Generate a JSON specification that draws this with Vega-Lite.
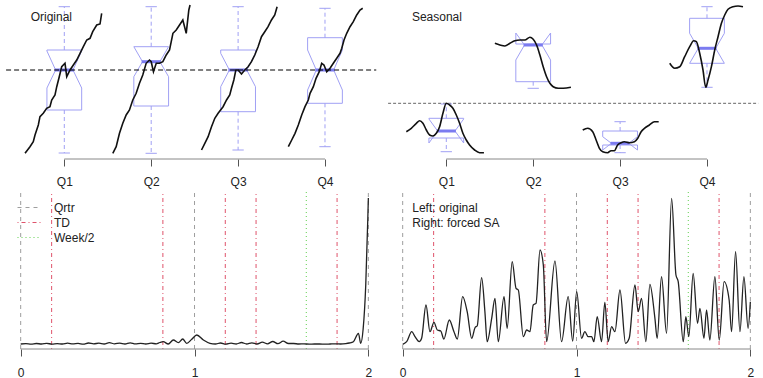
{
"$schema":"https://vega.github.io/schema/vega-lite/v6.json",
"padding":0,
"background":"white",
"config":{"view":{"stroke":null},"font":"Liberation Sans"},
"columns":2,
"spacing":{"row":32,"column":2},
"bounds":"flush",
"resolve":{"scale":{"x":"independent","y":"independent","color":"independent","strokeDash":"independent"},"legend":{"color":"independent","strokeDash":"independent"}},
"datasets":{
"series":[
{"p":"TL","q":1,"x":0.548,"y":5.7},{"p":"TL","q":1,"x":0.605,"y":12.3},{"p":"TL","q":1,"x":0.643,"y":17.3},{"p":"TL","q":1,"x":0.663,"y":24},{"p":"TL","q":1,"x":0.701,"y":34},{"p":"TL","q":1,"x":0.72,"y":42.3},{"p":"TL","q":1,"x":0.758,"y":45.7},{"p":"TL","q":1,"x":0.797,"y":50.7},{"p":"TL","q":1,"x":0.835,"y":52.3},{"p":"TL","q":1,"x":0.855,"y":59},{"p":"TL","q":1,"x":0.893,"y":64},{"p":"TL","q":1,"x":0.913,"y":72.3},{"p":"TL","q":1,"x":0.942,"y":82.3},{"p":"TL","q":1,"x":0.97,"y":92.3},{"p":"TL","q":1,"x":1.008,"y":95.7},{"p":"TL","q":1,"x":1.028,"y":82.3},{"p":"TL","q":1,"x":1.066,"y":89},{"p":"TL","q":1,"x":1.104,"y":94},{"p":"TL","q":1,"x":1.143,"y":99},{"p":"TL","q":1,"x":1.181,"y":105.7},{"p":"TL","q":1,"x":1.219,"y":112.3},{"p":"TL","q":1,"x":1.258,"y":119},{"p":"TL","q":1,"x":1.296,"y":120.7},{"p":"TL","q":1,"x":1.327,"y":127.3},{"p":"TL","q":1,"x":1.373,"y":134},{"p":"TL","q":1,"x":1.411,"y":135},{"p":"TL","q":1,"x":1.43,"y":145.7},
{"p":"TL","q":2,"x":1.558,"y":5.7},{"p":"TL","q":2,"x":1.597,"y":12.3},{"p":"TL","q":2,"x":1.635,"y":25.7},{"p":"TL","q":2,"x":1.673,"y":35.7},{"p":"TL","q":2,"x":1.712,"y":44},{"p":"TL","q":2,"x":1.75,"y":49},{"p":"TL","q":2,"x":1.788,"y":59},{"p":"TL","q":2,"x":1.827,"y":65.7},{"p":"TL","q":2,"x":1.865,"y":75.7},{"p":"TL","q":2,"x":1.903,"y":84},{"p":"TL","q":2,"x":1.942,"y":95.7},{"p":"TL","q":2,"x":1.98,"y":99},{"p":"TL","q":2,"x":2.0,"y":97.3},{"p":"TL","q":2,"x":2.026,"y":87.3},{"p":"TL","q":2,"x":2.058,"y":95.7},{"p":"TL","q":2,"x":2.096,"y":95.7},{"p":"TL","q":2,"x":2.134,"y":97.3},{"p":"TL","q":2,"x":2.173,"y":104},{"p":"TL","q":2,"x":2.211,"y":109},{"p":"TL","q":2,"x":2.25,"y":125.7},{"p":"TL","q":2,"x":2.288,"y":129},{"p":"TL","q":2,"x":2.326,"y":134},{"p":"TL","q":2,"x":2.364,"y":139},{"p":"TL","q":2,"x":2.403,"y":125.7},{"p":"TL","q":2,"x":2.433,"y":149},{"p":"TL","q":2,"x":2.447,"y":154},
{"p":"TL","q":3,"x":2.579,"y":9},{"p":"TL","q":3,"x":2.617,"y":15.7},{"p":"TL","q":3,"x":2.655,"y":22.3},{"p":"TL","q":3,"x":2.694,"y":32.3},{"p":"TL","q":3,"x":2.732,"y":40.7},{"p":"TL","q":3,"x":2.77,"y":45.7},{"p":"TL","q":3,"x":2.827,"y":52.3},{"p":"TL","q":3,"x":2.867,"y":59},{"p":"TL","q":3,"x":2.904,"y":64},{"p":"TL","q":3,"x":2.924,"y":70.7},{"p":"TL","q":3,"x":2.951,"y":79},{"p":"TL","q":3,"x":2.974,"y":89},{"p":"TL","q":3,"x":3.0,"y":89},{"p":"TL","q":3,"x":3.039,"y":85},{"p":"TL","q":3,"x":3.077,"y":89},{"p":"TL","q":3,"x":3.115,"y":92.3},{"p":"TL","q":3,"x":3.154,"y":97.3},{"p":"TL","q":3,"x":3.192,"y":104},{"p":"TL","q":3,"x":3.23,"y":112.3},{"p":"TL","q":3,"x":3.269,"y":122.3},{"p":"TL","q":3,"x":3.307,"y":127.3},{"p":"TL","q":3,"x":3.345,"y":132.3},{"p":"TL","q":3,"x":3.384,"y":139},{"p":"TL","q":3,"x":3.422,"y":144},{"p":"TL","q":3,"x":3.449,"y":152.3},
{"p":"TL","q":4,"x":3.578,"y":12.3},{"p":"TL","q":4,"x":3.617,"y":19},{"p":"TL","q":4,"x":3.655,"y":25.7},{"p":"TL","q":4,"x":3.693,"y":34},{"p":"TL","q":4,"x":3.732,"y":44},{"p":"TL","q":4,"x":3.77,"y":52.3},{"p":"TL","q":4,"x":3.808,"y":59},{"p":"TL","q":4,"x":3.828,"y":65.7},{"p":"TL","q":4,"x":3.866,"y":72.3},{"p":"TL","q":4,"x":3.897,"y":80.7},{"p":"TL","q":4,"x":3.934,"y":87.3},{"p":"TL","q":4,"x":3.962,"y":95.7},{"p":"TL","q":4,"x":3.988,"y":94},{"p":"TL","q":4,"x":4.02,"y":87.3},{"p":"TL","q":4,"x":4.058,"y":90.7},{"p":"TL","q":4,"x":4.096,"y":95.7},{"p":"TL","q":4,"x":4.135,"y":100.7},{"p":"TL","q":4,"x":4.173,"y":105.7},{"p":"TL","q":4,"x":4.193,"y":110.7},{"p":"TL","q":4,"x":4.219,"y":119},{"p":"TL","q":4,"x":4.25,"y":125.7},{"p":"TL","q":4,"x":4.288,"y":132.3},{"p":"TL","q":4,"x":4.326,"y":137.3},{"p":"TL","q":4,"x":4.365,"y":144},{"p":"TL","q":4,"x":4.403,"y":149},{"p":"TL","q":4,"x":4.434,"y":150.7},
{"p":"TR","q":1,"x":0.54,"y":27.3},{"p":"TR","q":1,"x":0.597,"y":30.7},{"p":"TR","q":1,"x":0.655,"y":35.7},{"p":"TR","q":1,"x":0.693,"y":38.3},{"p":"TR","q":1,"x":0.731,"y":35.7},{"p":"TR","q":1,"x":0.77,"y":29},{"p":"TR","q":1,"x":0.808,"y":24},{"p":"TR","q":1,"x":0.846,"y":23},{"p":"TR","q":1,"x":0.885,"y":25.7},{"p":"TR","q":1,"x":0.923,"y":32.3},{"p":"TR","q":1,"x":0.961,"y":45.7},{"p":"TR","q":1,"x":1.0,"y":55.7},{"p":"TR","q":1,"x":1.038,"y":54},{"p":"TR","q":1,"x":1.076,"y":50.7},{"p":"TR","q":1,"x":1.115,"y":44},{"p":"TR","q":1,"x":1.153,"y":35.7},{"p":"TR","q":1,"x":1.191,"y":25.7},{"p":"TR","q":1,"x":1.23,"y":19},{"p":"TR","q":1,"x":1.268,"y":14},{"p":"TR","q":1,"x":1.326,"y":9},{"p":"TR","q":1,"x":1.383,"y":6.3},{"p":"TR","q":1,"x":1.433,"y":6.3},
{"p":"TR","q":2,"x":1.559,"y":115.7},{"p":"TR","q":2,"x":1.617,"y":114},{"p":"TR","q":2,"x":1.674,"y":113},{"p":"TR","q":2,"x":1.732,"y":115.7},{"p":"TR","q":2,"x":1.789,"y":118.3},{"p":"TR","q":2,"x":1.847,"y":119},{"p":"TR","q":2,"x":1.904,"y":119},{"p":"TR","q":2,"x":1.962,"y":121.7},{"p":"TR","q":2,"x":2.0,"y":119.7},{"p":"TR","q":2,"x":2.039,"y":114},{"p":"TR","q":2,"x":2.077,"y":104},{"p":"TR","q":2,"x":2.115,"y":92.3},{"p":"TR","q":2,"x":2.154,"y":82.3},{"p":"TR","q":2,"x":2.192,"y":75.7},{"p":"TR","q":2,"x":2.23,"y":72.3},{"p":"TR","q":2,"x":2.288,"y":70.7},{"p":"TR","q":2,"x":2.345,"y":70.7},{"p":"TR","q":2,"x":2.434,"y":71.7},
{"p":"TR","q":3,"x":2.57,"y":29},{"p":"TR","q":3,"x":2.627,"y":30.7},{"p":"TR","q":3,"x":2.685,"y":27.3},{"p":"TR","q":3,"x":2.724,"y":19},{"p":"TR","q":3,"x":2.762,"y":10.7},{"p":"TR","q":3,"x":2.8,"y":7.3},{"p":"TR","q":3,"x":2.857,"y":6.3},{"p":"TR","q":3,"x":2.896,"y":8.3},{"p":"TR","q":3,"x":2.934,"y":8.3},{"p":"TR","q":3,"x":2.972,"y":14},{"p":"TR","q":3,"x":3.012,"y":16.3},{"p":"TR","q":3,"x":3.049,"y":17.3},{"p":"TR","q":3,"x":3.107,"y":16.3},{"p":"TR","q":3,"x":3.165,"y":17.3},{"p":"TR","q":3,"x":3.203,"y":20.7},{"p":"TR","q":3,"x":3.242,"y":27.3},{"p":"TR","q":3,"x":3.28,"y":30.7},{"p":"TR","q":3,"x":3.337,"y":34},{"p":"TR","q":3,"x":3.395,"y":37.3},{"p":"TR","q":3,"x":3.444,"y":37.3},
{"p":"TR","q":4,"x":3.571,"y":95.7},{"p":"TR","q":4,"x":3.628,"y":90.7},{"p":"TR","q":4,"x":3.686,"y":92.3},{"p":"TR","q":4,"x":3.743,"y":102.3},{"p":"TR","q":4,"x":3.801,"y":112.3},{"p":"TR","q":4,"x":3.847,"y":118.3},{"p":"TR","q":4,"x":3.878,"y":117.3},{"p":"TR","q":4,"x":3.916,"y":105.7},{"p":"TR","q":4,"x":3.954,"y":89},{"p":"TR","q":4,"x":3.985,"y":71.7},{"p":"TR","q":4,"x":4.012,"y":79},{"p":"TR","q":4,"x":4.051,"y":92.3},{"p":"TR","q":4,"x":4.089,"y":109},{"p":"TR","q":4,"x":4.127,"y":122.3},{"p":"TR","q":4,"x":4.166,"y":135.7},{"p":"TR","q":4,"x":4.204,"y":144},{"p":"TR","q":4,"x":4.242,"y":149.7},{"p":"TR","q":4,"x":4.299,"y":152.3},{"p":"TR","q":4,"x":4.357,"y":153},{"p":"TR","q":4,"x":4.414,"y":152.3}
],
"box":[
{"p":"TL","b":"TL1","i":1,"x":0.8,"y":49},{"p":"TL","b":"TL1","i":2,"x":1.2,"y":49},{"p":"TL","b":"TL1","i":3,"x":1.2,"y":71},{"p":"TL","b":"TL1","i":4,"x":1.1,"y":89},{"p":"TL","b":"TL1","i":5,"x":1.2,"y":108},{"p":"TL","b":"TL1","i":6,"x":1.2,"y":109},{"p":"TL","b":"TL1","i":7,"x":0.8,"y":109},{"p":"TL","b":"TL1","i":8,"x":0.8,"y":108},{"p":"TL","b":"TL1","i":9,"x":0.9,"y":89},{"p":"TL","b":"TL1","i":10,"x":0.8,"y":71},{"p":"TL","b":"TL1","i":11,"x":0.8,"y":49},
{"p":"TL","b":"TL2","i":1,"x":1.8,"y":53},{"p":"TL","b":"TL2","i":2,"x":2.2,"y":53},{"p":"TL","b":"TL2","i":3,"x":2.2,"y":82.3},{"p":"TL","b":"TL2","i":4,"x":2.1,"y":97.3},{"p":"TL","b":"TL2","i":5,"x":2.2,"y":112.3},{"p":"TL","b":"TL2","i":6,"x":2.2,"y":112.3},{"p":"TL","b":"TL2","i":7,"x":1.8,"y":112.3},{"p":"TL","b":"TL2","i":8,"x":1.8,"y":112.3},{"p":"TL","b":"TL2","i":9,"x":1.9,"y":97.3},{"p":"TL","b":"TL2","i":10,"x":1.8,"y":82.3},{"p":"TL","b":"TL2","i":11,"x":1.8,"y":53},
{"p":"TL","b":"TL3","i":1,"x":2.8,"y":47.3},{"p":"TL","b":"TL3","i":2,"x":3.2,"y":47.3},{"p":"TL","b":"TL3","i":3,"x":3.2,"y":72.3},{"p":"TL","b":"TL3","i":4,"x":3.1,"y":89},{"p":"TL","b":"TL3","i":5,"x":3.2,"y":105.7},{"p":"TL","b":"TL3","i":6,"x":3.2,"y":109},{"p":"TL","b":"TL3","i":7,"x":2.8,"y":109},{"p":"TL","b":"TL3","i":8,"x":2.8,"y":105.7},{"p":"TL","b":"TL3","i":9,"x":2.9,"y":89},{"p":"TL","b":"TL3","i":10,"x":2.8,"y":72.3},{"p":"TL","b":"TL3","i":11,"x":2.8,"y":47.3},
{"p":"TL","b":"TL4","i":1,"x":3.8,"y":55.7},{"p":"TL","b":"TL4","i":2,"x":4.2,"y":55.7},{"p":"TL","b":"TL4","i":3,"x":4.2,"y":69},{"p":"TL","b":"TL4","i":4,"x":4.1,"y":89},{"p":"TL","b":"TL4","i":5,"x":4.2,"y":109},{"p":"TL","b":"TL4","i":6,"x":4.2,"y":121.3},{"p":"TL","b":"TL4","i":7,"x":3.8,"y":121.3},{"p":"TL","b":"TL4","i":8,"x":3.8,"y":109},{"p":"TL","b":"TL4","i":9,"x":3.9,"y":89},{"p":"TL","b":"TL4","i":10,"x":3.8,"y":69},{"p":"TL","b":"TL4","i":11,"x":3.8,"y":55.7},
{"p":"TR","b":"TR1","i":1,"x":0.8,"y":21},{"p":"TR","b":"TR1","i":2,"x":1.2,"y":21},{"p":"TR","b":"TR1","i":3,"x":1.2,"y":16},{"p":"TR","b":"TR1","i":4,"x":1.1,"y":28},{"p":"TR","b":"TR1","i":5,"x":1.2,"y":40},{"p":"TR","b":"TR1","i":6,"x":1.2,"y":40.7},{"p":"TR","b":"TR1","i":7,"x":0.8,"y":40.7},{"p":"TR","b":"TR1","i":8,"x":0.8,"y":40},{"p":"TR","b":"TR1","i":9,"x":0.9,"y":28},{"p":"TR","b":"TR1","i":10,"x":0.8,"y":16},{"p":"TR","b":"TR1","i":11,"x":0.8,"y":21},
{"p":"TR","b":"TR2","i":1,"x":1.8,"y":77.3},{"p":"TR","b":"TR2","i":2,"x":2.2,"y":77.3},{"p":"TR","b":"TR2","i":3,"x":2.2,"y":99},{"p":"TR","b":"TR2","i":4,"x":2.1,"y":114},{"p":"TR","b":"TR2","i":5,"x":2.2,"y":126},{"p":"TR","b":"TR2","i":6,"x":2.2,"y":115},{"p":"TR","b":"TR2","i":7,"x":1.8,"y":115},{"p":"TR","b":"TR2","i":8,"x":1.8,"y":126},{"p":"TR","b":"TR2","i":9,"x":1.9,"y":114},{"p":"TR","b":"TR2","i":10,"x":1.8,"y":99},{"p":"TR","b":"TR2","i":11,"x":1.8,"y":77.3},
{"p":"TR","b":"TR3","i":1,"x":2.8,"y":14},{"p":"TR","b":"TR3","i":2,"x":3.2,"y":14},{"p":"TR","b":"TR3","i":3,"x":3.2,"y":9},{"p":"TR","b":"TR3","i":4,"x":3.1,"y":15.7},{"p":"TR","b":"TR3","i":5,"x":3.2,"y":22.3},{"p":"TR","b":"TR3","i":6,"x":3.2,"y":28},{"p":"TR","b":"TR3","i":7,"x":2.8,"y":28},{"p":"TR","b":"TR3","i":8,"x":2.8,"y":22.3},{"p":"TR","b":"TR3","i":9,"x":2.9,"y":15.7},{"p":"TR","b":"TR3","i":10,"x":2.8,"y":9},{"p":"TR","b":"TR3","i":11,"x":2.8,"y":14},
{"p":"TR","b":"TR4","i":1,"x":3.8,"y":95.7},{"p":"TR","b":"TR4","i":2,"x":4.2,"y":95.7},{"p":"TR","b":"TR4","i":3,"x":4.2,"y":95.7},{"p":"TR","b":"TR4","i":4,"x":4.1,"y":110.7},{"p":"TR","b":"TR4","i":5,"x":4.2,"y":125.7},{"p":"TR","b":"TR4","i":6,"x":4.2,"y":140.7},{"p":"TR","b":"TR4","i":7,"x":3.8,"y":140.7},{"p":"TR","b":"TR4","i":8,"x":3.8,"y":125.7},{"p":"TR","b":"TR4","i":9,"x":3.9,"y":110.7},{"p":"TR","b":"TR4","i":10,"x":3.8,"y":95.7},{"p":"TR","b":"TR4","i":11,"x":3.8,"y":95.7}
],
"whisk":[
{"p":"TL","x":1,"y":109,"y2":152.3},{"p":"TL","x":1,"y":49,"y2":6},
{"p":"TL","x":2,"y":112.3,"y2":152.3},{"p":"TL","x":2,"y":53,"y2":5.7},
{"p":"TL","x":3,"y":109,"y2":152.3},{"p":"TL","x":3,"y":47.3,"y2":9},
{"p":"TL","x":4,"y":121.3,"y2":150.7},{"p":"TL","x":4,"y":55.7,"y2":12.3},
{"p":"TR","x":1,"y":40.7,"y2":55},{"p":"TR","x":1,"y":21,"y2":7.3},
{"p":"TR","x":2,"y":77.3,"y2":70.7},
{"p":"TR","x":3,"y":28,"y2":37.3},{"p":"TR","x":3,"y":14,"y2":6.3},
{"p":"TR","x":4,"y":140.7,"y2":152.3},{"p":"TR","x":4,"y":95.7,"y2":71.7}
],
"caps":[
{"p":"TL","x":0.935,"x2":1.065,"y":152.3},{"p":"TL","x":0.935,"x2":1.065,"y":6},
{"p":"TL","x":1.935,"x2":2.065,"y":152.3},{"p":"TL","x":1.935,"x2":2.065,"y":5.7},
{"p":"TL","x":2.935,"x2":3.065,"y":152.3},{"p":"TL","x":2.935,"x2":3.065,"y":9},
{"p":"TL","x":3.935,"x2":4.065,"y":150.7},{"p":"TL","x":3.935,"x2":4.065,"y":12.3},
{"p":"TR","x":0.935,"x2":1.065,"y":55},{"p":"TR","x":0.935,"x2":1.065,"y":7.3},
{"p":"TR","x":1.935,"x2":2.065,"y":70.7},
{"p":"TR","x":2.935,"x2":3.065,"y":37.3},{"p":"TR","x":2.935,"x2":3.065,"y":6.3},
{"p":"TR","x":3.935,"x2":4.065,"y":152.3},{"p":"TR","x":3.935,"x2":4.065,"y":71.7}
],
"meds":[
{"p":"TL","x":0.89,"x2":1.11,"y":89},{"p":"TL","x":1.89,"x2":2.11,"y":97.3},{"p":"TL","x":2.89,"x2":3.11,"y":89},{"p":"TL","x":3.89,"x2":4.11,"y":89},
{"p":"TR","x":0.89,"x2":1.11,"y":28},{"p":"TR","x":1.89,"x2":2.11,"y":114},{"p":"TR","x":2.89,"x2":3.11,"y":15.7},{"p":"TR","x":3.89,"x2":4.11,"y":110.7}
],
"hline":[
{"p":"TL","x":0.33,"x2":4.59,"y":89},
{"p":"TR","x":0.33,"x2":4.59,"y":55.7}
],
"axl":[
{"p":"TL","x":1,"x2":4,"y":0},{"p":"TR","x":1,"x2":4,"y":0},
{"p":"BL","x":0,"x2":2,"y":0},{"p":"BR","x":0,"x2":2,"y":0}
],
"txt":[
{"p":"TL","x":0.613,"y":138.3,"text":"Original"},
{"p":"TR","x":0.604,"y":138.3,"text":"Seasonal"},
{"p":"BR","x":0.055,"y":137.3,"text":"Left: original"},
{"p":"BR","x":0.055,"y":122.3,"text":"Right: forced SA"}
],
"vl":[
{"x":0,"y":0,"y2":158,"type":"Qrtr"},{"x":1,"y":0,"y2":158,"type":"Qrtr"},{"x":2,"y":0,"y2":158,"type":"Qrtr"},
{"x":0.178,"y":0,"y2":158,"type":"TD"},{"x":0.818,"y":0,"y2":158,"type":"TD"},{"x":1.177,"y":0,"y2":158,"type":"TD"},{"x":1.354,"y":0,"y2":158,"type":"TD"},{"x":1.82,"y":0,"y2":158,"type":"TD"},
{"x":1.643,"y":0,"y2":158,"type":"Week/2"}
],
"spec":[
{"p":"BL","x":0,"y":5},{"p":"BL","x":0.03,"y":5.3},{"p":"BL","x":0.06,"y":4.8},{"p":"BL","x":0.09,"y":5.5},{"p":"BL","x":0.12,"y":5},{"p":"BL","x":0.15,"y":5.6},{"p":"BL","x":0.18,"y":4.9},{"p":"BL","x":0.21,"y":5.4},{"p":"BL","x":0.24,"y":5},{"p":"BL","x":0.27,"y":5.8},{"p":"BL","x":0.3,"y":5.1},{"p":"BL","x":0.33,"y":5.6},{"p":"BL","x":0.36,"y":4.8},{"p":"BL","x":0.39,"y":6},{"p":"BL","x":0.42,"y":5.2},{"p":"BL","x":0.45,"y":5.8},{"p":"BL","x":0.48,"y":5},{"p":"BL","x":0.51,"y":6.3},{"p":"BL","x":0.54,"y":5.2},{"p":"BL","x":0.57,"y":5.9},{"p":"BL","x":0.6,"y":5},{"p":"BL","x":0.63,"y":6.2},{"p":"BL","x":0.66,"y":5.1},{"p":"BL","x":0.69,"y":5.7},{"p":"BL","x":0.72,"y":5},{"p":"BL","x":0.75,"y":5.8},{"p":"BL","x":0.78,"y":5.2},{"p":"BL","x":0.8,"y":6.5},{"p":"BL","x":0.82,"y":7.3},{"p":"BL","x":0.849,"y":5},{"p":"BL","x":0.878,"y":9},{"p":"BL","x":0.907,"y":6.3},{"p":"BL","x":0.932,"y":10},{"p":"BL","x":0.955,"y":5.7},{"p":"BL","x":0.984,"y":9.7},{"p":"BL","x":1.013,"y":14},{"p":"BL","x":1.051,"y":9},{"p":"BL","x":1.089,"y":5.7},{"p":"BL","x":1.12,"y":5},{"p":"BL","x":1.15,"y":6},{"p":"BL","x":1.18,"y":4.8},{"p":"BL","x":1.21,"y":5.8},{"p":"BL","x":1.24,"y":5},{"p":"BL","x":1.27,"y":6.5},{"p":"BL","x":1.3,"y":5},{"p":"BL","x":1.33,"y":6.2},{"p":"BL","x":1.36,"y":5},{"p":"BL","x":1.39,"y":6.8},{"p":"BL","x":1.42,"y":5.2},{"p":"BL","x":1.45,"y":7.5},{"p":"BL","x":1.48,"y":5.3},{"p":"BL","x":1.51,"y":7.8},{"p":"BL","x":1.54,"y":5.5},{"p":"BL","x":1.57,"y":5.5},{"p":"BL","x":1.6,"y":5},{"p":"BL","x":1.63,"y":5.1},{"p":"BL","x":1.66,"y":4.9},{"p":"BL","x":1.69,"y":5},{"p":"BL","x":1.72,"y":5},{"p":"BL","x":1.75,"y":4.9},{"p":"BL","x":1.78,"y":5},{"p":"BL","x":1.81,"y":5.1},{"p":"BL","x":1.84,"y":5},{"p":"BL","x":1.87,"y":5.4},{"p":"BL","x":1.89,"y":6},{"p":"BL","x":1.914,"y":7.3},{"p":"BL","x":1.943,"y":15.7},{"p":"BL","x":1.956,"y":5.7},{"p":"BL","x":1.97,"y":20},{"p":"BL","x":1.985,"y":64},{"p":"BL","x":1.997,"y":131},{"p":"BL","x":2.0,"y":151},
{"p":"BR","x":0,"y":4.7},{"p":"BR","x":0.023,"y":7.3},{"p":"BR","x":0.052,"y":17.3},{"p":"BR","x":0.071,"y":12.3},{"p":"BR","x":0.095,"y":7.3},{"p":"BR","x":0.109,"y":10.7},{"p":"BR","x":0.134,"y":44},{"p":"BR","x":0.157,"y":17.3},{"p":"BR","x":0.18,"y":26.7},{"p":"BR","x":0.199,"y":19},{"p":"BR","x":0.219,"y":18},{"p":"BR","x":0.237,"y":10},{"p":"BR","x":0.268,"y":29},{"p":"BR","x":0.295,"y":17.3},{"p":"BR","x":0.314,"y":10},{"p":"BR","x":0.345,"y":52.3},{"p":"BR","x":0.371,"y":37.3},{"p":"BR","x":0.397,"y":10.7},{"p":"BR","x":0.416,"y":21.3},{"p":"BR","x":0.429,"y":23.3},{"p":"BR","x":0.454,"y":71.3},{"p":"BR","x":0.473,"y":37.3},{"p":"BR","x":0.486,"y":7.3},{"p":"BR","x":0.512,"y":30.7},{"p":"BR","x":0.531,"y":50.7},{"p":"BR","x":0.55,"y":7.3},{"p":"BR","x":0.583,"y":52.3},{"p":"BR","x":0.601,"y":20.7},{"p":"BR","x":0.63,"y":87.3},{"p":"BR","x":0.652,"y":60.7},{"p":"BR","x":0.665,"y":59},{"p":"BR","x":0.694,"y":12.3},{"p":"BR","x":0.713,"y":19},{"p":"BR","x":0.732,"y":17.3},{"p":"BR","x":0.751,"y":44},{"p":"BR","x":0.767,"y":45.7},{"p":"BR","x":0.79,"y":99},{"p":"BR","x":0.809,"y":84},{"p":"BR","x":0.828,"y":7.3},{"p":"BR","x":0.876,"y":88},{"p":"BR","x":0.914,"y":7.3},{"p":"BR","x":0.952,"y":52.3},{"p":"BR","x":0.978,"y":8},{"p":"BR","x":1.001,"y":57.3},{"p":"BR","x":1.029,"y":10.7},{"p":"BR","x":1.048,"y":17.3},{"p":"BR","x":1.067,"y":12.3},{"p":"BR","x":1.087,"y":12.3},{"p":"BR","x":1.1,"y":7.3},{"p":"BR","x":1.119,"y":32.3},{"p":"BR","x":1.144,"y":7.3},{"p":"BR","x":1.163,"y":46.7},{"p":"BR","x":1.182,"y":7.3},{"p":"BR","x":1.202,"y":22.3},{"p":"BR","x":1.221,"y":17.3},{"p":"BR","x":1.25,"y":59},{"p":"BR","x":1.282,"y":5.7},{"p":"BR","x":1.303,"y":10.7},{"p":"BR","x":1.336,"y":64},{"p":"BR","x":1.355,"y":37.3},{"p":"BR","x":1.374,"y":50.7},{"p":"BR","x":1.399,"y":7.3},{"p":"BR","x":1.422,"y":64.7},{"p":"BR","x":1.451,"y":30.7},{"p":"BR","x":1.464,"y":10.7},{"p":"BR","x":1.489,"y":72.3},{"p":"BR","x":1.518,"y":15.7},{"p":"BR","x":1.547,"y":150.7},{"p":"BR","x":1.572,"y":74},{"p":"BR","x":1.585,"y":67.3},{"p":"BR","x":1.614,"y":7.3},{"p":"BR","x":1.629,"y":32.3},{"p":"BR","x":1.646,"y":12.3},{"p":"BR","x":1.671,"y":75.7},{"p":"BR","x":1.696,"y":25.7},{"p":"BR","x":1.71,"y":40.7},{"p":"BR","x":1.733,"y":10.7},{"p":"BR","x":1.748,"y":39},{"p":"BR","x":1.767,"y":9},{"p":"BR","x":1.796,"y":72.3},{"p":"BR","x":1.821,"y":9},{"p":"BR","x":1.849,"y":67.3},{"p":"BR","x":1.878,"y":49},{"p":"BR","x":1.892,"y":17.3},{"p":"BR","x":1.915,"y":97.3},{"p":"BR","x":1.94,"y":17.3},{"p":"BR","x":1.963,"y":72.3},{"p":"BR","x":1.987,"y":20.7},{"p":"BR","x":2.0,"y":47.3}
]
},
"concat":[
{
"width":380,"height":159,
"encoding":{
"x":{"field":"x","type":"quantitative","scale":{"domain":[0.26,4.633],"nice":false,"zero":false},"axis":{"values":[1,2,3,4],"labelExpr":"'Q' + datum.value","domain":false,"grid":false,"tickSize":7,"tickColor":"#555555","labelFontSize":12,"labelColor":"#222222","labelPadding":10,"title":null,"labelFont":"Liberation Sans"}},
"y":{"field":"y","type":"quantitative","scale":{"domain":[0,159],"nice":false,"zero":false},"axis":null}
},
"layer":[
{"data":{"name":"box"},"transform":[{"filter":"datum.p === 'TL'"}],"mark":{"type":"line","stroke":"#a0a0f4","strokeWidth":1},"encoding":{"detail":{"field":"b"},"order":{"field":"i","type":"quantitative"}}},
{"data":{"name":"whisk"},"transform":[{"filter":"datum.p === 'TL'"}],"mark":{"type":"rule","stroke":"#a0a0f4","strokeWidth":1,"strokeDash":[4,3]},"encoding":{"y2":{"field":"y2"}}},
{"data":{"name":"caps"},"transform":[{"filter":"datum.p === 'TL'"}],"mark":{"type":"rule","stroke":"#a0a0f4","strokeWidth":1},"encoding":{"x2":{"field":"x2"}}},
{"data":{"name":"meds"},"transform":[{"filter":"datum.p === 'TL'"}],"mark":{"type":"rule","stroke":"#7b7bf0","strokeWidth":3},"encoding":{"x2":{"field":"x2"}}},
{"data":{"name":"hline"},"transform":[{"filter":"datum.p === 'TL'"}],"mark":{"type":"rule","stroke":"#000000","strokeWidth":1,"strokeDash":[5,3]},"encoding":{"x2":{"field":"x2"}}},
{"data":{"name":"series"},"transform":[{"filter":"datum.p === 'TL'"}],"mark":{"type":"line","stroke":"#111111","strokeWidth":1.6},"encoding":{"detail":{"field":"q"}}},
{"data":{"name":"axl"},"transform":[{"filter":"datum.p === 'TL'"}],"mark":{"type":"rule","stroke":"#888888","strokeWidth":1},"encoding":{"x2":{"field":"x2"}}},
{"data":{"name":"txt"},"transform":[{"filter":"datum.p === 'TL'"}],"mark":{"type":"text","align":"left","baseline":"alphabetic","fontSize":12,"font":"Liberation Sans","color":"#222222"},"encoding":{"text":{"field":"text"}}}
]
},
{
"width":380,"height":159,
"encoding":{
"x":{"field":"x","type":"quantitative","scale":{"domain":[0.26,4.633],"nice":false,"zero":false},"axis":{"values":[1,2,3,4],"labelExpr":"'Q' + datum.value","domain":false,"grid":false,"tickSize":7,"tickColor":"#555555","labelFontSize":12,"labelColor":"#222222","labelPadding":10,"title":null,"labelFont":"Liberation Sans"}},
"y":{"field":"y","type":"quantitative","scale":{"domain":[0,159],"nice":false,"zero":false},"axis":null}
},
"layer":[
{"data":{"name":"hline"},"transform":[{"filter":"datum.p === 'TR'"}],"mark":{"type":"rule","stroke":"#666666","strokeWidth":1,"strokeDash":[3,2]},"encoding":{"x2":{"field":"x2"}}},
{"data":{"name":"box"},"transform":[{"filter":"datum.p === 'TR'"}],"mark":{"type":"line","stroke":"#a0a0f4","strokeWidth":1},"encoding":{"detail":{"field":"b"},"order":{"field":"i","type":"quantitative"}}},
{"data":{"name":"whisk"},"transform":[{"filter":"datum.p === 'TR'"}],"mark":{"type":"rule","stroke":"#a0a0f4","strokeWidth":1,"strokeDash":[4,3]},"encoding":{"y2":{"field":"y2"}}},
{"data":{"name":"caps"},"transform":[{"filter":"datum.p === 'TR'"}],"mark":{"type":"rule","stroke":"#a0a0f4","strokeWidth":1},"encoding":{"x2":{"field":"x2"}}},
{"data":{"name":"meds"},"transform":[{"filter":"datum.p === 'TR'"}],"mark":{"type":"rule","stroke":"#7b7bf0","strokeWidth":3},"encoding":{"x2":{"field":"x2"}}},
{"data":{"name":"series"},"transform":[{"filter":"datum.p === 'TR'"}],"mark":{"type":"line","stroke":"#111111","strokeWidth":1.6,"interpolate":"monotone"},"encoding":{"detail":{"field":"q"}}},
{"data":{"name":"axl"},"transform":[{"filter":"datum.p === 'TR'"}],"mark":{"type":"rule","stroke":"#888888","strokeWidth":1},"encoding":{"x2":{"field":"x2"}}},
{"data":{"name":"txt"},"transform":[{"filter":"datum.p === 'TR'"}],"mark":{"type":"text","align":"left","baseline":"alphabetic","fontSize":12,"font":"Liberation Sans","color":"#222222"},"encoding":{"text":{"field":"text"}}}
]
},
{
"width":380,"height":158,
"encoding":{
"x":{"field":"x","type":"quantitative","scale":{"domain":[-0.119,2.067],"nice":false,"zero":false},"axis":{"values":[0,1,2],"format":"d","domain":false,"grid":false,"tickSize":7,"tickColor":"#555555","labelFontSize":12,"labelColor":"#222222","labelPadding":11,"title":null,"labelFont":"Liberation Sans","labelFlush":false}},
"y":{"field":"y","type":"quantitative","scale":{"domain":[0,158],"nice":false,"zero":false},"axis":null}
},
"layer":[
{"data":{"name":"vl"},"mark":{"type":"rule","strokeWidth":1},"encoding":{"y2":{"field":"y2"},
"color":{"field":"type","type":"nominal","scale":{"domain":["Qrtr","TD","Week/2"],"range":["#9E9E9E","#DF536B","#61D04F"]},"legend":{"orient":"none","legendX":17,"legendY":9,"title":null,"symbolType":"stroke","symbolSize":529,"symbolStrokeWidth":1,"labelFontSize":12,"labelFont":"Liberation Sans","labelColor":"#222222","labelOffset":13,"rowPadding":0,"clipHeight":15}},
"strokeDash":{"field":"type","type":"nominal","scale":{"domain":["Qrtr","TD","Week/2"],"range":[[4,4],[1,3,4,3],[1,3]]},"legend":{"orient":"none","legendX":17,"legendY":9,"title":null,"symbolType":"stroke","symbolSize":529,"symbolStrokeWidth":1,"labelFontSize":12,"labelFont":"Liberation Sans","labelColor":"#222222","labelOffset":13,"rowPadding":0,"clipHeight":15}}}},
{"data":{"name":"spec"},"transform":[{"filter":"datum.p === 'BL'"}],"mark":{"type":"line","stroke":"#222222","strokeWidth":1.3,"interpolate":"monotone"},"encoding":{}},
{"data":{"name":"axl"},"transform":[{"filter":"datum.p === 'BL'"}],"mark":{"type":"rule","stroke":"#888888","strokeWidth":1},"encoding":{"x2":{"field":"x2"}}}
]
},
{
"width":380,"height":158,
"encoding":{
"x":{"field":"x","type":"quantitative","scale":{"domain":[-0.119,2.067],"nice":false,"zero":false},"axis":{"values":[0,1,2],"format":"d","domain":false,"grid":false,"tickSize":7,"tickColor":"#555555","labelFontSize":12,"labelColor":"#222222","labelPadding":11,"title":null,"labelFont":"Liberation Sans","labelFlush":false}},
"y":{"field":"y","type":"quantitative","scale":{"domain":[0,158],"nice":false,"zero":false},"axis":null}
},
"layer":[
{"data":{"name":"vl"},"mark":{"type":"rule","strokeWidth":1},"encoding":{"y2":{"field":"y2"},
"color":{"field":"type","type":"nominal","scale":{"domain":["Qrtr","TD","Week/2"],"range":["#9E9E9E","#DF536B","#61D04F"]},"legend":null},
"strokeDash":{"field":"type","type":"nominal","scale":{"domain":["Qrtr","TD","Week/2"],"range":[[4,4],[1,3,4,3],[1,3]]},"legend":null}}},
{"data":{"name":"spec"},"transform":[{"filter":"datum.p === 'BR'"}],"mark":{"type":"line","stroke":"#222222","strokeWidth":1.3,"interpolate":"monotone"},"encoding":{}},
{"data":{"name":"axl"},"transform":[{"filter":"datum.p === 'BR'"}],"mark":{"type":"rule","stroke":"#888888","strokeWidth":1},"encoding":{"x2":{"field":"x2"}}},
{"data":{"name":"txt"},"transform":[{"filter":"datum.p === 'BR'"}],"mark":{"type":"text","align":"left","baseline":"alphabetic","fontSize":12,"font":"Liberation Sans","color":"#222222"},"encoding":{"text":{"field":"text"}}}
]
}
]
}
